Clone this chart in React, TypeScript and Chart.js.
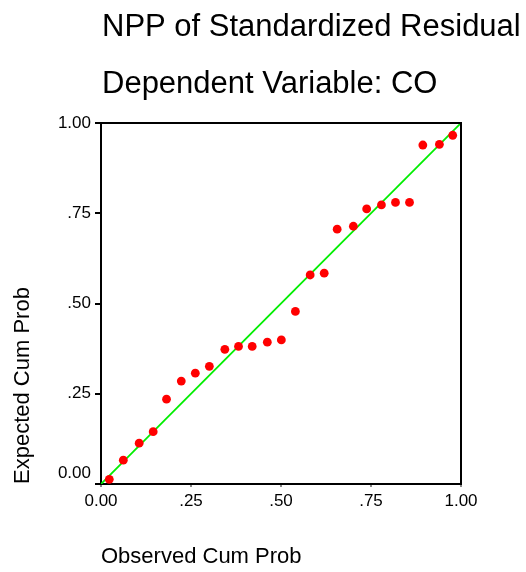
import React, { useEffect, useRef } from "react";
import { Chart, registerables } from "chart.js";

Chart.register(...registerables);

const titleLines = ["NPP of Standardized Residual", "Dependent Variable: CO"];
const xAxisTitle = "Observed Cum Prob";
const yAxisTitle = "Expected Cum Prob";
const tickLabels = ["0.00", ".25", ".50", ".75", "1.00"];

const observedCumProb = [
  0.023, 0.062, 0.106, 0.145, 0.182, 0.223, 0.262, 0.301, 0.344, 0.382, 0.42,
  0.462, 0.501, 0.54, 0.581, 0.62, 0.656, 0.701, 0.738, 0.779, 0.818, 0.857,
  0.894, 0.94, 0.977,
];
const expectedCumProb = [
  0.013, 0.066, 0.113, 0.145, 0.235, 0.285, 0.307, 0.326, 0.373, 0.381, 0.381,
  0.393, 0.399, 0.478, 0.579, 0.584, 0.706, 0.714, 0.762, 0.773, 0.78, 0.78,
  0.939, 0.941, 0.966,
];
const referenceLine = [0, 1];

const FONT = 'Arial, "Liberation Sans", sans-serif';

const frameAndTitles = {
  id: "frameAndTitles",
  afterDraw(chart: any) {
    const { ctx, chartArea } = chart;
    ctx.save();
    ctx.strokeStyle = "#000";
    ctx.lineWidth = 2;
    ctx.beginPath();
    ctx.moveTo(chartArea.left, chartArea.top);
    ctx.lineTo(chartArea.right, chartArea.top);
    ctx.lineTo(chartArea.right, chartArea.bottom);
    ctx.stroke();
    ctx.fillStyle = "#000";
    ctx.font = `31px ${FONT}`;
    ctx.textAlign = "left";
    ctx.textBaseline = "alphabetic";
    ctx.fillText(titleLines[0], chartArea.left + 1, 36);
    ctx.fillText(titleLines[1], chartArea.left + 1, 93);
    ctx.restore();
  },
};

export default function App() {
  const ref = useRef<HTMLCanvasElement | null>(null);

  useEffect(() => {
    if (!ref.current) return;
    const points = observedCumProb.map((x, i) => ({ x, y: expectedCumProb[i] }));
    const chart = new Chart(ref.current, {
      type: "scatter",
      data: {
        datasets: [
          {
            type: "scatter",
            data: points,
            backgroundColor: "rgb(255,0,0)",
            borderColor: "rgb(255,0,0)",
            borderWidth: 0,
            pointRadius: 4.4,
            order: 0,
          } as any,
          {
            type: "line",
            data: referenceLine.map((v) => ({ x: v, y: v })),
            borderColor: "#00ee00",
            borderWidth: 1.8,
            pointRadius: 0,
            fill: false,
            order: 1,
          } as any,
        ],
      },
      plugins: [frameAndTitles],
      options: {
        animation: false,
        responsive: false,
        events: [],
        layout: { padding: { top: 123, right: 65, bottom: 0, left: 0 } },
        plugins: {
          legend: { display: false },
          tooltip: { enabled: false },
          title: { display: false },
        },
        scales: {
          x: {
            type: "linear",
            min: 0,
            max: 1,
            afterFit: (s: any) => {
              s.height = 88;
            },
            border: { display: true, color: "#000", width: 2 },
            grid: {
              drawOnChartArea: false,
              drawTicks: true,
              tickLength: 3,
              tickColor: "#888",
              tickWidth: 2,
              lineWidth: 2,
            },
            ticks: {
              stepSize: 0.25,
              padding: 4,
              color: "#000",
              font: { size: 17, family: FONT },
              maxRotation: 0,
              callback: (_v: any, i: number) => tickLabels[i],
            },
            title: {
              display: true,
              text: xAxisTitle,
              align: "start",
              color: "#000",
              font: { size: 22, family: FONT },
              padding: { top: 0, bottom: 2 },
            },
          },
          y: {
            type: "linear",
            min: 0,
            max: 1,
            afterFit: (s: any) => {
              s.width = 101;
            },
            border: { display: true, color: "#000", width: 2 },
            grid: {
              drawOnChartArea: false,
              drawTicks: true,
              tickLength: 6,
              tickColor: "#000",
              tickWidth: 2,
              lineWidth: 2,
            },
            ticks: {
              stepSize: 0.25,
              padding: 4,
              color: "#000",
              font: { size: 17, family: FONT },
              callback: (_v: any, i: number) =>
                i === 0 ? [tickLabels[0], ""] : tickLabels[i],
            },
            title: {
              display: true,
              text: yAxisTitle,
              align: "start",
              color: "#000",
              font: { size: 22, family: FONT },
              padding: { top: 10, bottom: 0 },
            },
          },
        },
      } as any,
    });
    return () => chart.destroy();
  }, []);

  return (
    <div style={{ position: "absolute", left: 0, top: 0, width: 526, height: 572, background: "#fff" }}>
      <canvas ref={ref} width={526} height={572} style={{ display: "block" }} />
    </div>
  );
}
